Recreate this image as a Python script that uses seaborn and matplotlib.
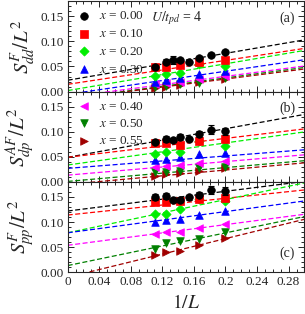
import numpy as np
import pandas as pd
import matplotlib
matplotlib.use("Agg")
import matplotlib.pyplot as plt
from matplotlib.ticker import MultipleLocator
import seaborn as sns

# ---------------- data ----------------
dopings = ["0.00", "0.10", "0.20", "0.30", "0.40", "0.50", "0.55"]
colors = ["#000000", "#ff0000", "#00ee00", "#0000ff", "#ff00ff", "#008000", "#a00000"]
markers = ["o", "s", "D", "^", "<", "v", ">"]

x_black = [1/9, 1/8, 1/7.5, 1/7, 1/6.5, 1/6, 1/5.5, 1/5]
x_other = [1/9, 1/8, 1/7, 1/6, 1/5]

# panel (a) S^F_dd / L^2
a_black = [0.048, 0.0595, 0.0635, 0.063, 0.0595, 0.0675, 0.073, 0.078]
a_black_err = [0.003, 0.005, 0.008, 0.004, 0.003, 0.004, 0.004, 0.004]
a_vals = [
    [0.049, 0.048, 0.052, 0.058, 0.0635],
    [0.031, 0.036, 0.038, 0.055, 0.051],
    [0.020, 0.024, 0.0265, 0.0345, 0.041],
    [0.0157, 0.017, 0.019, 0.0245, 0.0305],
    [0.009, 0.011, 0.015, 0.018, 0.0265],
    [0.0065, 0.009, 0.0125, 0.0195, 0.0245],
]
a_fit_icpt = [0.0226, 0.0145, 0.002, -0.0055, -0.011, -0.0146, -0.015]
a_fit_end = [0.103, 0.086, 0.082, 0.0635, 0.051, 0.048, 0.045]

# panel (b) S^AF_dp / L^2
b_black = [0.0787, 0.0855, 0.0827, 0.0895, 0.086, 0.0955, 0.104, 0.1008]
b_black_err = [0.004, 0.005, 0.004, 0.005, 0.004, 0.006, 0.009, 0.0067]
b_vals = [
    [0.078, 0.077, 0.074, 0.082, 0.086],
    [0.0558, 0.059, 0.0605, 0.0807, 0.072],
    [0.0437, 0.0458, 0.049, 0.0558, 0.0585],
    [0.0302, 0.0323, 0.0337, 0.0383, 0.0423],
    [0.019, 0.020, 0.0215, 0.027, 0.030],
    [0.0115, 0.0155, 0.018, 0.022, 0.027],
]
b_fit_icpt = [0.049, 0.049, 0.0337, 0.027, 0.0135, 0.001, -0.005]
b_fit_end = [0.1345, 0.1056, 0.0996, 0.064, 0.054, 0.0423, 0.038]

# panel (c) S^F_pp / L^2
c_black = [0.149, 0.151, 0.1444, 0.1444, 0.149, 0.154, 0.164, 0.161]
c_black_err = [0.006, 0.006, 0.004, 0.005, 0.005, 0.005, 0.0074, 0.008]
c_vals = [
    [0.140, 0.139, 0.141, 0.145, 0.148],
    [0.1155, 0.117, 0.1256, 0.146, 0.142],
    [0.100, 0.104, 0.107, 0.1135, 0.122],
    [0.077, 0.0806, 0.080, 0.088, 0.0954],
    [0.0464, 0.0585, 0.0617, 0.0665, 0.0806],
    [0.035, 0.0395, 0.0415, 0.0536, 0.0685],
]
c_fit_icpt = [0.122, 0.114, 0.0786, 0.0786, 0.0537, 0.0133, -0.010]
c_fit_end = [0.181, 0.164, 0.178, 0.142, 0.1155, 0.111, 0.1055]

ylabels = [r"$S^{F}_{dd}/L^2$", r"$S^{AF}_{dp}/L^2$", r"$S^{F}_{pp}/L^2$"]
panel_tags = ["(a)", "(b)", "(c)"]
x_fit = [0.0, 0.3]

# ---------------- style ----------------
sns.set_style("ticks")
plt.rcParams["font.family"] = ["Liberation Serif", "DejaVu Serif"]
plt.rcParams["mathtext.fontset"] = "stix"

fig = plt.figure(figsize=(3.05, 3.14), dpi=100)
left, right, bottom, top = 0.222, 0.998, 0.133, 0.996
h = (top - bottom) / 3
axes = [fig.add_axes([left, bottom + (2 - i) * h, right - left, h]) for i in range(3)]

panels = [
    (a_black, a_black_err, a_vals, a_fit_icpt, a_fit_end),
    (b_black, b_black_err, b_vals, b_fit_icpt, b_fit_end),
    (c_black, c_black_err, c_vals, c_fit_icpt, c_fit_end),
]

for i, (ax, (blk, blk_err, vals, icpt, end)) in enumerate(zip(axes, panels)):
    # fit lines
    rows = []
    for k in range(7):
        slope = (end[k] - icpt[k]) / 0.3
        for xv in x_fit:
            rows.append({"x": xv, "y": icpt[k] + slope * xv, "dop": dopings[k]})
    fit_df = pd.DataFrame(rows)
    sns.lineplot(data=fit_df, x="x", y="y", hue="dop", palette=colors,
                 hue_order=dopings, ax=ax, legend=False, lw=0.9,
                 dashes=False, linestyle=(0, (4, 2)))
    # data points
    pts = [{"x": xv, "y": yv, "dop": dopings[0]} for xv, yv in zip(x_black, blk)]
    for k in range(6):
        pts += [{"x": xv, "y": yv, "dop": dopings[k + 1]} for xv, yv in zip(x_other, vals[k])]
    pdf = pd.DataFrame(pts)
    # plot in reverse order so black is on top
    for k in reversed(range(7)):
        sub = pdf[pdf.dop == dopings[k]]
        sns.scatterplot(data=sub, x="x", y="y", color=colors[k], marker=markers[k],
                        s=30 if markers[k] != "D" else 22, edgecolor=colors[k],
                        linewidth=0.5, ax=ax, legend=False, zorder=3,
                        label=r"$x$ = " + dopings[k])
    ax.errorbar(x_black, blk, yerr=blk_err, fmt="none", ecolor="black",
                elinewidth=0.8, capsize=2.5, capthick=0.8, zorder=4)

    ax.set_xlim(0, 0.3)
    ax.set_ylim(0, 0.18)
    ax.xaxis.set_major_locator(MultipleLocator(0.04))
    ax.xaxis.set_minor_locator(MultipleLocator(0.01))
    ax.yaxis.set_major_locator(MultipleLocator(0.05))
    ax.yaxis.set_minor_locator(MultipleLocator(0.01))
    ax.tick_params(which="both", direction="in", top=True, right=True,
                   labelsize=9.5, width=0.7, pad=3)
    ax.tick_params(which="major", length=4)
    ax.tick_params(which="minor", length=2)
    ax.set_yticks([0, 0.05, 0.10, 0.15])
    ax.set_yticklabels(["0.00", "0.05", "0.10", "0.15"])
    for sp in ax.spines.values():
        sp.set_linewidth(0.8)
    ax.set_ylabel(ylabels[i], fontsize=15, labelpad=2)
    ax.set_xlabel("")
    if i < 2:
        ax.tick_params(labelbottom=False)
    else:
        ax.set_xticks([0, 0.04, 0.08, 0.12, 0.16, 0.2, 0.24, 0.28])
        ax.set_xticklabels(["0", "0.04", "0.08", "0.12", "0.16", "0.2", "0.24", "0.28"])
        ax.set_xlabel(r"$1/L$", fontsize=14, labelpad=4)
    ax.text(0.927, 0.81 if i < 2 else 0.21, panel_tags[i], transform=ax.transAxes,
            ha="center", va="center", fontsize=10)

# legends
h0, l0 = axes[0].get_legend_handles_labels()
order = {lab: hd for hd, lab in zip(h0, l0)}
labs_a = [r"$x$ = " + d for d in dopings[:4]]
axes[0].legend([order[l] for l in labs_a], labs_a, loc="upper left", frameon=False,
               fontsize=9.5, handletextpad=0.6, labelspacing=0.42,
               borderaxespad=0.2, handlelength=1.2, bbox_to_anchor=(0.0, 0.99))
h1, l1 = axes[1].get_legend_handles_labels()
order1 = {lab: hd for hd, lab in zip(h1, l1)}
labs_b = [r"$x$ = " + d for d in dopings[4:]]
axes[1].legend([order1[l] for l in labs_b], labs_b, loc="upper left", frameon=False,
               fontsize=9.5, handletextpad=0.6, labelspacing=0.38,
               borderaxespad=0.2, handlelength=1.2, bbox_to_anchor=(0.0, 0.99))

axes[0].text(0.35, 0.81, r"$U/t_{pd}$ = 4", transform=axes[0].transAxes,
             ha="left", va="center", fontsize=10)

fig.savefig("out.png", dpi=100)
